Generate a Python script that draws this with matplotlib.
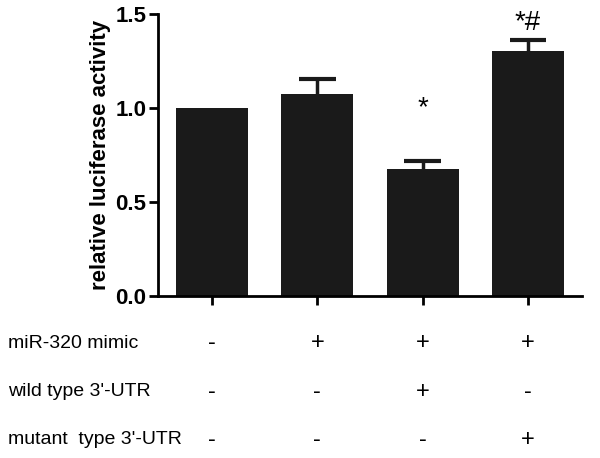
import numpy as np
import matplotlib
matplotlib.use('Agg')
import matplotlib.pyplot as plt

plt.rcParams['font.family'] = ['Liberation Sans', 'DejaVu Sans']

# data
groups = ['ctrl', 'mimic', 'mimic+wt', 'mimic+mut']
values = [1.0, 1.073, 0.674, 1.305]
errors = [0.0, 0.081, 0.042, 0.055]
marks = ['', '', '*', '*#']
mark_y = [0, 0, 1.0, 1.45]
row_labels = ['miR-320 mimic', 'wild type 3\'-UTR', 'mutant  type 3\'-UTR']
row_signs = [['-', '+', '+', '+'],
             ['-', '-', '+', '-'],
             ['-', '-', '-', '+']]
yticks = [0.0, 0.5, 1.0, 1.5]

fig = plt.figure(figsize=(6, 4.58), dpi=100)
ax = fig.add_axes([0.2633, 0.3537, 0.7067, 0.6157])

x = np.arange(len(values))
ax.bar(x, values, width=0.684, color='#1a1a1a', zorder=2)

# error bars, only upward
for xi, v, e in zip(x, values, errors):
    if e > 0:
        ax.vlines(xi, v, v + e, color='#1a1a1a', lw=2.5, zorder=1)
        ax.hlines(v + e, xi - 0.175, xi + 0.175, color='#1a1a1a', lw=3,
                  zorder=1)

# significance marks
for xi, m, my in zip(x, marks, mark_y):
    if m:
        ax.text(xi, my, m, ha='center', va='center', fontsize=20)

ax.set_xlim(-0.513, 3.513)
ax.set_ylim(0, 1.5)
ax.set_yticks(yticks)
ax.set_yticklabels(['%.1f' % t for t in yticks], fontsize=16, fontweight='bold')
ax.set_xticks(x)
ax.set_xticklabels([])
ax.set_ylabel('relative luciferase activity', fontsize=16, fontweight='bold')
ax.yaxis.set_label_coords(-0.11, 0.5)

for s in ['top', 'right']:
    ax.spines[s].set_visible(False)
for s in ['left', 'bottom']:
    ax.spines[s].set_linewidth(2)
ax.tick_params(axis='both', direction='out', length=6.5, width=2)
ax.tick_params(axis='y', pad=2)

# condition table below the axis
row_y = [343, 392, 440]
for lab, signs, ry in zip(row_labels, row_signs, row_y):
    yf = 1 - ry / 458
    fig.text(8 / 600, yf, lab, ha='left', va='center', fontsize=14)
    for xi, sg in zip(x, signs):
        xd = ax.transData.transform((xi, 0))[0]
        xf = fig.transFigure.inverted().transform((xd, 0))[0]
        fig.text(xf, yf, sg, ha='center', va='center', fontsize=17)

fig.savefig('out.png', dpi=100)
